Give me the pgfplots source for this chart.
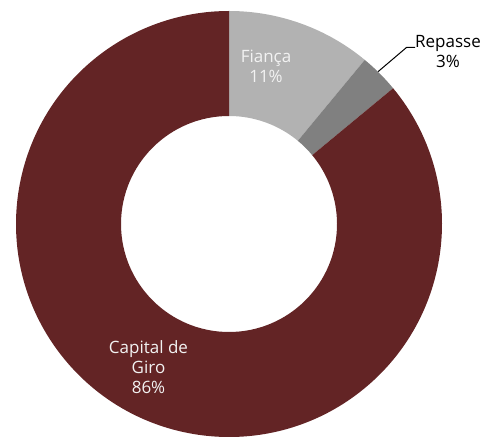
\documentclass[border=0pt]{standalone}
\usepackage{pgfplots}
\pgfplotsset{compat=1.18}
\usetikzlibrary{calc}
\usepackage{fontspec}
\setmainfont{Open Sans}
\definecolor{gMaroon}{HTML}{632425}
\definecolor{gLight} {HTML}{B2B2B2}
\definecolor{gDark}  {HTML}{808080}
\definecolor{gText}  {HTML}{F2F2F2}

\begin{document}
\begin{tikzpicture}
\begin{axis}[
  x=1pt, y=1pt,
  xmin=-229, xmax=257, ymin=-212, ymax=224,
  hide axis, clip=true,
]
  % invisible frame so the page keeps the full size
  \path (axis cs:-229,-212) rectangle (axis cs:257,224);
  % share (percent) / colour, clockwise from 12 o'clock
  \foreach \v/\c [remember=\e as \s (initially 90),
                  evaluate=\v as \e using \s-3.6*\v] in {11/gLight,3/gDark,86/gMaroon} {
    \edef\temp{\noexpand\fill[\c]
      (\noexpand$(axis cs:0,0)+(\s:213pt)\noexpand$)
      arc[start angle=\s, end angle=\e, radius=213pt]
      -- (\noexpand$(axis cs:0,0)+(\e:108pt)\noexpand$)
      arc[start angle=\e, end angle=\s, radius=108pt] -- cycle;}
    \temp
  }
  \draw[black, line width=1pt] (axis cs:186,176.7) -- (axis cs:177.7,176.7) -- (axis cs:149,152.3);
  \node[text=gText, font=\fontsize{17}{20}\selectfont, align=center]
    at (axis cs:37,158) {Fiança\\11\%};
  \node[text=black, font=\fontsize{17}{20}\selectfont, align=center]
    at (axis cs:219,172) {Repasse\\3\%};
  \node[text=gText, font=\fontsize{17}{20}\selectfont, align=center]
    at (axis cs:-80.5,-142.7) {Capital de\\Giro\\86\%};
\end{axis}
\end{tikzpicture}
\end{document}
